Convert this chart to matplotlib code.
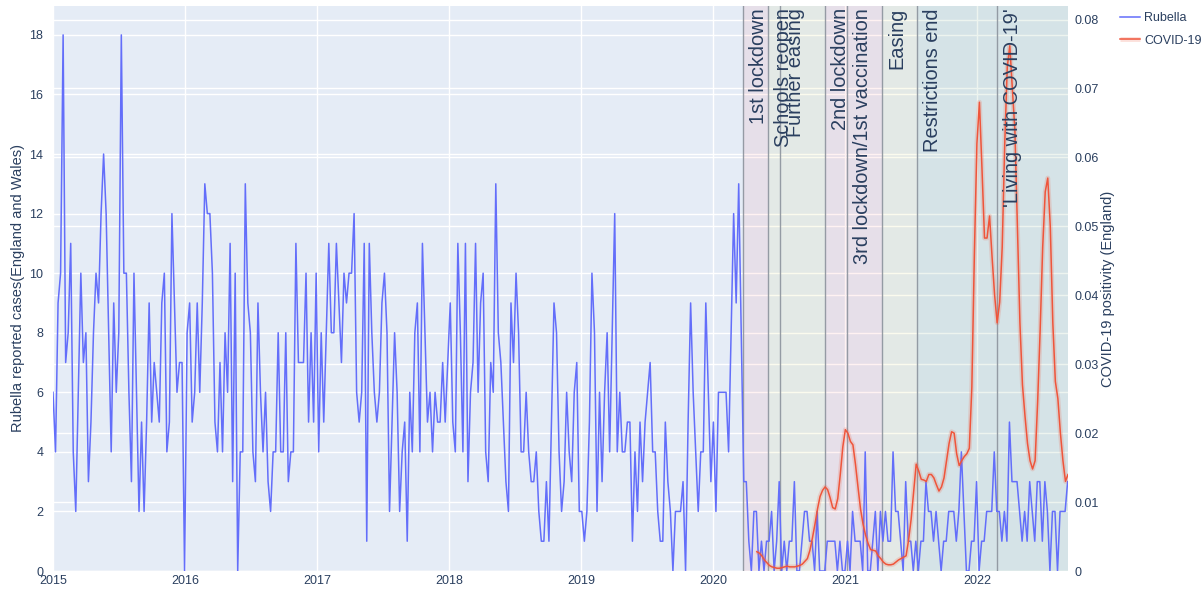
import matplotlib
matplotlib.use("Agg")
import matplotlib.pyplot as plt
import matplotlib.dates as mdates
import matplotlib.transforms as mtransforms
from matplotlib.legend_handler import HandlerTuple
from matplotlib.ticker import FuncFormatter
import numpy as np
import pandas as pd

plt.rcParams['font.family'] = ['Liberation Sans', 'DejaVu Sans']

# weekly rubella reports, England and Wales
rubella_cases = [
    6, 4, 9, 10, 18, 7, 8, 11, 4, 2,
    6, 10, 7, 8, 3, 5, 8, 10, 9, 12,
    14, 12, 8, 4, 9, 6, 8, 18, 10, 10,
    6, 3, 10, 6, 2, 5, 2, 5, 9, 5,
    7, 6, 5, 9, 10, 4, 5, 12, 9, 6,
    7, 7, 0, 8, 9, 5, 6, 9, 6, 9,
    13, 12, 12, 10, 5, 4, 7, 4, 8, 6,
    11, 3, 10, 0, 4, 4, 13, 9, 8, 4,
    3, 9, 6, 4, 6, 3, 2, 4, 4, 8,
    4, 4, 8, 3, 4, 4, 11, 7, 7, 7,
    10, 5, 8, 5, 10, 4, 8, 5, 8, 11,
    8, 8, 11, 9, 7, 10, 9, 10, 10, 12,
    6, 5, 6, 11, 1, 11, 8, 6, 5, 6,
    9, 10, 8, 2, 5, 8, 6, 2, 4, 5,
    1, 6, 4, 8, 9, 4, 11, 8, 5, 6,
    4, 6, 5, 5, 7, 5, 7, 9, 5, 4,
    11, 8, 4, 11, 3, 6, 7, 11, 6, 9,
    10, 4, 3, 7, 6, 13, 8, 7, 5, 3,
    2, 9, 7, 10, 8, 4, 4, 6, 4, 3,
    3, 4, 2, 1, 1, 3, 1, 5, 9, 8,
    4, 2, 3, 6, 4, 3, 6, 7, 2, 2,
    1, 2, 5, 10, 8, 2, 6, 3, 6, 8,
    4, 8, 12, 4, 6, 4, 4, 5, 5, 1,
    4, 2, 5, 3, 5, 6, 7, 4, 4, 2,
    1, 1, 5, 3, 2, 0, 2, 2, 2, 3,
    0, 5, 9, 6, 4, 2, 4, 4, 9, 6,
    3, 5, 2, 6, 6, 6, 6, 4, 8, 12,
    9, 13, 8, 3, 3, 1, 0, 2, 2, 0,
    1, 0, 1, 1, 2, 0, 1, 3, 0, 1,
    0, 1, 1, 3, 0, 0, 1, 2, 2, 1,
    1, 0, 2, 0, 0, 0, 1, 1, 1, 1,
    0, 1, 0, 0, 1, 0, 2, 1, 1, 1,
    0, 4, 0, 0, 1, 2, 0, 2,
    1, 2, 1, 1, 4, 2, 2, 1, 0, 3,
    1, 1, 0, 1, 0, 1, 1, 3, 2, 2,
    1, 2, 1, 0, 1, 1, 2, 2, 2, 1,
    2, 4, 2, 0, 0, 1, 1, 3, 0, 1,
    1, 2, 2, 2, 4, 2, 2, 1, 2, 1,
    5, 3, 3, 3, 2, 1, 2, 1, 3, 2,
    1, 3, 3, 1, 3, 2, 0, 2, 2, 0,
    2, 2, 2, 3,
]
rubella_dates = pd.date_range("2015-01-01", periods=len(rubella_cases), freq="7D")

# weekly COVID-19 positivity, England
covid_positivity = [
    0.0028, 0.0026, 0.0022, 0.0016, 0.0012, 0.0008, 0.0006, 0.0005, 0.0004, 0.0004,
    0.0005, 0.0006, 0.0007, 0.0006, 0.0006, 0.0006, 0.0007, 0.0008, 0.0010, 0.0014,
    0.0018, 0.0030, 0.0048, 0.0068, 0.0090, 0.0108, 0.0117, 0.0122, 0.0118, 0.0106,
    0.0092, 0.0090, 0.0105, 0.0140, 0.0180, 0.0205, 0.0200, 0.0188, 0.0183, 0.0155,
    0.0122, 0.0090, 0.0068, 0.0052, 0.0040, 0.0031, 0.0030, 0.0029, 0.0022, 0.0018,
    0.0013, 0.0010, 0.0009, 0.0009, 0.0010, 0.0013, 0.0016, 0.0018, 0.0020, 0.0022,
    0.0045, 0.0075, 0.0115, 0.0155, 0.0145, 0.0133, 0.0132, 0.0130, 0.0140, 0.0140,
    0.0135, 0.0125, 0.0116, 0.0122, 0.0135, 0.0160, 0.0185, 0.0202, 0.0200, 0.0170,
    0.0153, 0.0160, 0.0166, 0.0170, 0.0178, 0.0267, 0.0460, 0.0620, 0.0680, 0.0584,
    0.0483, 0.0483, 0.0515, 0.0455, 0.0400, 0.0360, 0.0390, 0.0470, 0.0620, 0.0731,
    0.0762, 0.0700, 0.0640, 0.0500, 0.0360, 0.0270, 0.0225, 0.0185, 0.0160, 0.0148,
    0.0160, 0.0245, 0.0350, 0.0470, 0.0550, 0.0570, 0.0500, 0.0360, 0.0275, 0.0250,
    0.0200, 0.0160, 0.0130, 0.0140,
]
covid_dates = pd.date_range("2020-05-01", periods=len(covid_positivity), freq="7D")

event_labels = ["1st lockdown", "Schools reopen", "Further easing", "2nd lockdown",
                "3rd lockdown/1st vaccination", "Easing", "Restrictions end",
                "'Living with COVID-19'"]
event_dates = ["2020-03-23", "2020-06-01", "2020-07-04", "2020-11-05",
               "2021-01-06", "2021-04-12", "2021-07-19", "2022-02-24"]
event_kind = ["lockdown", "easing", "easing", "lockdown",
              "lockdown", "easing", "open", "open"]

shade = {"lockdown": ("red", 0.05), "easing": ("#DBD860", 0.1), "open": ("#4F9C6A", 0.1)}
text_col = "#2a3f5f"

fig = plt.figure(figsize=(12.03, 5.90), dpi=100)
ax = fig.add_axes([53 / 1203, 19 / 590, 1015 / 1203, 565 / 590])
ax2 = ax.twinx()
# right axis sits underneath: background + its gridlines
ax2.set_zorder(1)
ax.set_zorder(2)
ax.patch.set_visible(False)
ax2.patch.set_visible(True)
ax2.patch.set_facecolor("#E5ECF6")

x_end = max(rubella_dates[-1], covid_dates[-1])
ax2.set_ylim(0, 0.08196)

ax.grid(color="white", lw=1)
ax.set_axisbelow(True)
ax2.grid(axis="y", color="white", lw=1)
ax2.grid(axis="x", visible=False)

# policy periods
ends = event_dates[1:] + [x_end]
for start, end, kind in zip(event_dates, ends, event_kind):
    c, a = shade[kind]
    ax.axvspan(pd.Timestamp(start), pd.Timestamp(end), color=c, alpha=a, lw=0, zorder=1)

for d, lab in zip(event_dates, event_labels):
    ax.axvline(pd.Timestamp(d), color="#8c939d", lw=1, alpha=0.9, zorder=2)
    tr = mtransforms.offset_copy(ax.get_xaxis_transform(), fig=fig, x=6, y=-2, units="dots")
    ax.text(mdates.date2num(pd.Timestamp(d)), 1.0, lab, transform=tr, rotation=90,
            ha="left", va="top", fontsize=14.4, color=text_col, zorder=6)

rub_line, = ax.plot(rubella_dates, rubella_cases, color="#636efa", lw=1.1, zorder=3)
cov_band, = ax.plot(covid_dates, covid_positivity, color="#EF553B", lw=3.5, alpha=0.18,
                    solid_capstyle="butt", transform=ax2.transData, zorder=4)
cov_line, = ax.plot(covid_dates, covid_positivity, color="#EF553B", lw=1.1,
                    transform=ax2.transData, zorder=5)
ax.set_xlim(rubella_dates[0], x_end)
ax.set_ylim(0, 18.97)

ax.set_yticks(np.arange(0, 19, 2))
ax2.set_yticks(np.arange(0, 0.0801, 0.01))
ax2.yaxis.set_major_formatter(FuncFormatter(lambda v, _: "0" if abs(v) < 1e-9 else f"{v:.2f}"))
ax.xaxis.set_major_locator(mdates.YearLocator())
ax.xaxis.set_major_formatter(mdates.DateFormatter("%Y"))

for a in (ax, ax2):
    for s in a.spines.values():
        s.set_visible(False)
    a.tick_params(length=0, labelsize=9, labelcolor=text_col)
ax.tick_params(axis="y", pad=7)
ax.tick_params(axis="x", pad=3)
ax2.tick_params(axis="y", pad=5)

ax.set_ylabel("Rubella reported cases(England and Wales)", fontsize=10.5, color=text_col, labelpad=3)
ax2.set_ylabel("COVID-19 positivity (England)", fontsize=10.5, color=text_col, labelpad=1)

fig.legend([rub_line, (cov_band, cov_line)], ["Rubella", "COVID-19"],
           handler_map={tuple: HandlerTuple(ndivide=1)},
           loc="upper left", bbox_to_anchor=(1120 / 1203, 1 - 12 / 590),
           frameon=False, fontsize=9, labelcolor=text_col, borderpad=0, borderaxespad=0,
           handlelength=1.6, handletextpad=0.35, labelspacing=0.85)

fig.savefig("out.png", dpi=100)
